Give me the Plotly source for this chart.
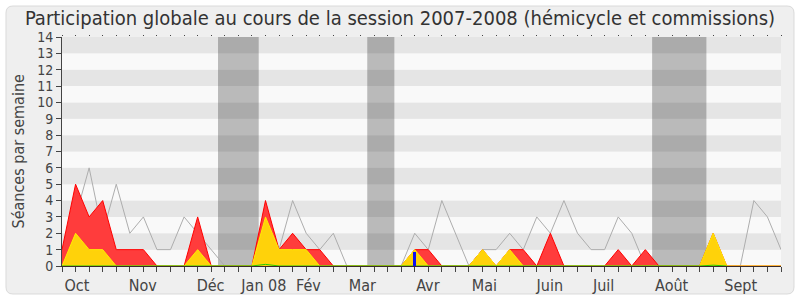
import plotly.graph_objects as go

# ---- data (weekly, session 2007-2008) ----
weeks = list(range(54))
presence = [1, 5, 3, 4, 1, 1, 1, 0, 0, 0,
            3, 0, 0, 0, 0, 4, 1, 2, 1, 1,
            0, 0, 0, 0, 0, 0, 1, 1, 0, 0,
            0, 1, 0, 1, 1, 0, 2, 0, 0, 0,
            0, 1, 0, 1, 0, 0, 0, 0, 2, 0,
            0, 0, 0, 0]
participation = [0, 2, 1, 1, 0, 0, 0, 0, 0, 0,
                 1, 0, 0, 0, 0, 3, 1, 1, 1, 0,
                 0, 0, 0, 0, 0, 0, 1, 0, 0, 0,
                 0, 1, 0, 1, 0, 0, 0, 0, 0, 0,
                 0, 0, 0, 0, 0, 0, 0, 0, 2, 0,
                 0, 0, 0, 0]
mediane = [1, 3, 6, 2, 5, 2, 3, 1, 1, 3,
           2, 1, 0, 0, 0, 0, 1, 4, 2, 1,
           2, 0, 0, 0, 0, 0, 2, 1, 4, 2,
           0, 1, 1, 2, 1, 3, 2, 4, 2, 1,
           1, 3, 2, 0, 0, 0, 0, 0, 0, 0,
           0, 4, 3, 1]
green_weeks = [0, 1, 2, 3, 4, 14, 15, 16, 17, 18, 19, 47, 48, 49]
green_vals = [0, 0, 0, 0, 0, 0, 0.1, 0, 0, 0, 0, 0, 0.05, 0]
questions_weeks = [26]
questions_vals = [0.85]
vacances = [(11.5, 14.5), (22.5, 24.5), (43.5, 47.5)]
mois = ["Oct", "Nov", "Déc", "Jan 08", "Fév", "Mar", "Avr", "Mai", "Juin", "Juil", "Août", "Sept"]
mois_pos = [1.1, 5.95, 10.95, 14.88, 18.17, 22.14, 26.97, 31.14, 35.96, 39.93, 44.94, 50.03]

TITLE = "Participation globale au cours de la session 2007-2008 (hémicycle et commissions)"
YLAB = "Séances par semaine"

W, H = 800, 300
L, R, T, B = 62, 19, 37, 34
pw, ph = W - L - R, H - T - B
FONT = "DejaVu Sans Condensed, DejaVu Sans, sans-serif"


def px(x):
    return (x - L) / pw


def py(y):
    return 1 - (y - T) / ph


fig = go.Figure()

fig.add_trace(go.Scatter(x=weeks, y=mediane, mode="lines",
                         line=dict(color="#adadad", width=1), hoverinfo="skip", showlegend=False))
fig.add_trace(go.Scatter(x=weeks, y=presence, mode="lines", fill="tozeroy",
                         fillcolor="#ff3c3c", line=dict(color="#ff0000", width=1),
                         showlegend=False))
fig.add_trace(go.Scatter(x=weeks, y=participation, mode="lines", fill="tozeroy",
                         fillcolor="#ffd20a", line=dict(color="#ffee00", width=1),
                         showlegend=False))
fig.add_trace(go.Scatter(x=green_weeks, y=green_vals, mode="lines",
                         line=dict(color="#22cc00", width=1), showlegend=False))
# questions bars on the overlaying (top) x axis so they are drawn above the areas
fig.add_trace(go.Bar(x=questions_weeks, y=questions_vals, width=0.25, xaxis="x2",
                     marker=dict(color="#1010ee", line=dict(width=0)), showlegend=False))

shapes = []
# outer rounded box (pixels -> paper)
x0, y0, x1, y1, r = 6, 6, 794, 294, 7
def P(x, y):
    return f"{px(x):.5f},{py(y):.5f}"
path = (f"M {P(x0 + r, y0)} L {P(x1 - r, y0)} Q {P(x1, y0)} {P(x1, y0 + r)} "
        f"L {P(x1, y1 - r)} Q {P(x1, y1)} {P(x1 - r, y1)} L {P(x0 + r, y1)} "
        f"Q {P(x0, y1)} {P(x0, y1 - r)} L {P(x0, y0 + r)} Q {P(x0, y0)} {P(x0 + r, y0)} Z")
shapes.append(dict(type="path", xref="paper", yref="paper", path=path,
                   fillcolor="#efefef", line=dict(color="#dadada", width=1), layer="below"))
# stripes
for k in range(14):
    shapes.append(dict(type="rect", xref="x", yref="y", x0=0, x1=53, y0=k, y1=k + 1,
                       fillcolor="#e5e5e5" if k % 2 == 1 else "#f9f9f9",
                       line=dict(width=0), layer="below"))
for a, b in vacances:
    shapes.append(dict(type="rect", xref="x", yref="y", x0=a, x1=b, y0=0, y1=14,
                       fillcolor="rgba(0,0,0,0.25)", line=dict(width=0), layer="below"))

fig.update_layout(
    width=W, height=H,
    margin=dict(l=L, r=R, t=T, b=B, pad=0, autoexpand=False),
    paper_bgcolor="white", plot_bgcolor="rgba(0,0,0,0)",
    font=dict(family=FONT, color="#333333"),
    title=dict(text=TITLE, x=0.5, xanchor="center", xref="container",
               y=1 - 18 / H, yanchor="middle", yref="container", automargin=False,
               font=dict(size=20, color="#333333", family=FONT)),
    shapes=shapes,
    bargap=0,
    xaxis=dict(range=[0, 53], tickmode="array", tickvals=mois_pos, ticktext=mois,
               ticks="outside", ticklen=5, tickcolor="rgba(0,0,0,0)",
               tickfont=dict(size=16, color="#444444"), automargin=False,
               minor=dict(ticks="outside", ticklen=5, tickcolor="#444444",
                          tickmode="linear", tick0=0, dtick=1, showgrid=False),
               showgrid=False, zeroline=False, showline=True, linecolor="#3a2a2a",
               linewidth=1, layer="below traces", fixedrange=True),
    xaxis2=dict(range=[0, 53], overlaying="x", side="top", tickmode="linear",
                tick0=0, dtick=1, ticks="outside", ticklen=1, tickcolor="#444444",
                showticklabels=False, showgrid=False, zeroline=False, showline=False,
                automargin=False, fixedrange=True),
    yaxis=dict(range=[0, 14], tickmode="linear", tick0=0, dtick=1,
               ticks="outside", ticklen=5, tickcolor="#444444", automargin=False,
               tickfont=dict(size=14, color="#444444"),
               showgrid=False, zeroline=False, showline=True, linecolor="#444444",
               linewidth=1, fixedrange=True),
    annotations=[dict(text=YLAB, textangle=-90, xref="paper", yref="paper",
                      x=px(18), y=0.5, xanchor="center", yanchor="middle",
                      showarrow=False, font=dict(size=16, color="#444444", family=FONT))],
)

fig.write_html("out.html")
